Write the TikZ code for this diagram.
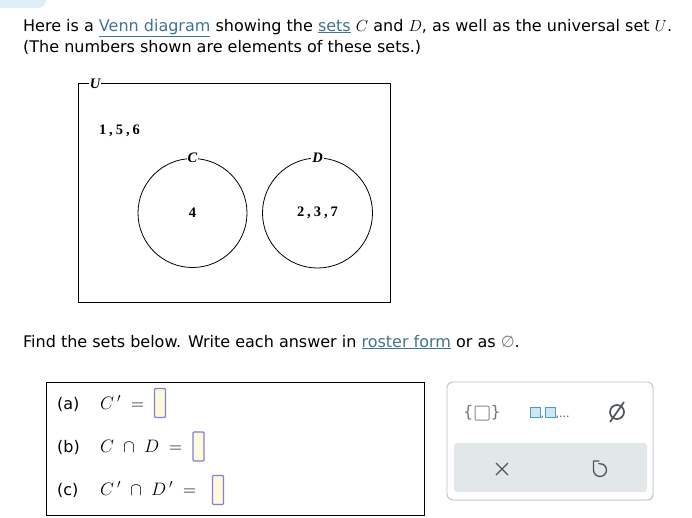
\documentclass[tikz,border=0pt]{standalone}
\usepackage{fix-cm}
\usepackage{fontspec}
\setmainfont{DejaVu Sans}
\newfontfamily\vennfont{Liberation Serif}
\usetikzlibrary{positioning,shadows}
\definecolor{linkblue}{HTML}{3F7493}
\definecolor{boxedge}{HTML}{8080D6}
\definecolor{boxfill}{HTML}{FFF8DA}
\definecolor{blobblue}{HTML}{DDEEF6}
\definecolor{panelgray}{HTML}{B8BDC2}
\definecolor{keygray}{HTML}{E2E7EA}
\definecolor{icongray}{HTML}{4F555B}
\definecolor{iconteal}{HTML}{4A9DC0}
\definecolor{iconfill}{HTML}{CFE6F0}
\newcommand{\lnk}[1]{\textcolor{linkblue}{\underline{#1}}}

\begin{document}
\begin{tikzpicture}[x=1pt,y=-1pt,
  every node/.style={inner sep=0pt},
  txt/.style={anchor=base west,font=\fontsize{16}{18}\selectfont},
  mth/.style={anchor=base west,font=\fontsize{18}{20}\selectfont},
  venn/.style={font=\vennfont\bfseries\fontsize{14.5}{16}\selectfont},
  vlabel/.style={font=\vennfont\bfseries\itshape\fontsize{14.5}{16}\selectfont,fill=white,inner xsep=1pt},
  ansbox/.style={draw=boxedge,fill=boxfill,line width=1.3pt,rounded corners=1pt,minimum width=11pt,minimum height=29pt},
  sq/.style={draw=iconteal,fill=iconfill,line width=1pt,minimum size=10pt}]
\useasboundingbox (0,0) rectangle (692,517);
\fill[blobblue,rounded corners=8pt] (-12,-12) rectangle (46,8);
% question
\node[txt] (q1) at (23,31) {Here is a \lnk{Venn diagram} showing the \lnk{sets} $C$ and $D$, as well as the universal set $U$.};
\node[txt] (q2) at (23,52) {(The numbers shown are elements of these sets.)};
% venn diagram
\draw[line width=0.8pt] (78,83) rectangle (390,302);
\node[vlabel] (labu) at (95,84) {U};
\node[venn] (outside) at (119.5,131) {1\hspace{3pt},\hspace{3pt}5\hspace{3pt},\hspace{3pt}6};
\node[draw,circle,line width=0.8pt,minimum size=109pt] (setc) at (192.5,213) {};
\node[draw,circle,line width=0.8pt,minimum size=110pt] (setd) at (317.5,213) {};
\node[vlabel] (labc) at (setc.north) {C};
\node[vlabel] (labd) at (setd.north) {D};
\node[venn] (inc) at (setc) {4};
\node[venn] (ind) at (setd) {2\hspace{3pt},\hspace{3pt}3\hspace{3pt},\hspace{3pt}7};
\node[txt] (q3) at (23,347) {Find the sets below. Write each answer in \lnk{roster form} or as \textcolor{gray}{∅}.};
% answers
\draw[line width=0.8pt] (46,382) rectangle (424,515);
\node[txt] (pa) at (57,409) {(a)};
\node[txt] (pb) at (57,452) {(b)};
\node[txt] (pc) at (57,495) {(c)};
\node[mth] (ea) at (100,409) {$C\,'\;=$};
\node[mth] (eb) at (100,452) {$C\;\cap\;D\;=$};
\node[mth] (ec) at (100,495) {$C\,'\;\cap\;D\,'\;=$};
\node[ansbox] (ansa) at (160,403) {};
\node[ansbox] (ansb) at (198.5,446.5) {};
\node[ansbox] (ansc) at (218,490) {};
% keypad
\node[draw=panelgray,fill=white,rounded corners=6pt,line width=0.8pt,minimum width=206pt,minimum height=118pt,
  drop shadow={opacity=0.12,shadow xshift=1pt,shadow yshift=-1pt}] (panel) at (550,441) {};
\node[fill=keygray,rounded corners=3pt,minimum width=193pt,minimum height=49pt] (keys) at (550.5,467.5) {};
\node[draw=icongray!70,rounded corners=1pt,line width=1pt,minimum size=14pt] (setbr) at (482,413) {};
\node[left=1pt of setbr,text=icongray!80,font=\fontsize{16}{16}\selectfont] (lbr) {\{};
\node[right=1pt of setbr,text=icongray!80,font=\fontsize{16}{16}\selectfont] (rbr) {\}};
\node[sq] (sqa) at (535,412) {};
\node[sq] (sqb) at (550,412) {};
\node[text=icongray,font=\fontsize{11}{11}\selectfont,anchor=base west] (cma) at (sqa.south east) {,};
\node[text=icongray,font=\fontsize{11}{11}\selectfont,anchor=base west] (dots) at (sqb.south east) {,...};
\node[circle,draw=icongray,line width=1.7pt,minimum size=14pt] (empt) at (617,412) {};
\draw[icongray,line width=1.7pt] (610,422) -- (624,402);
\draw[icongray,line width=1.3pt] (496,463) -- (508,475) (496,475) -- (508,463);
\draw[icongray,line width=1.3pt,line cap=round,line join=round]
  (599,461) -- (593.5,461) -- (593.5,470) arc[start angle=-180,end angle=-460,radius=6.5];
\end{tikzpicture}
\end{document}
